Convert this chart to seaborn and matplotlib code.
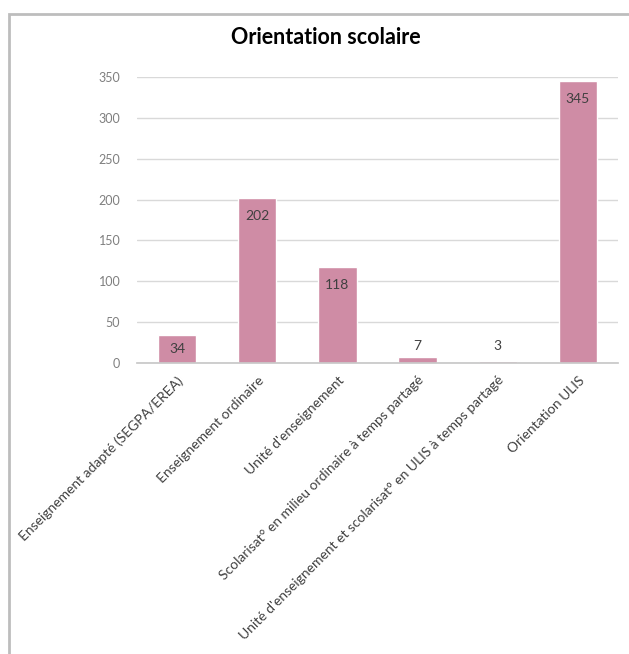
import matplotlib
matplotlib.use("Agg")
import matplotlib.pyplot as plt
import seaborn as sns
import pandas as pd
from matplotlib.patches import Rectangle

categories = [
    "Enseignement adapté (SEGPA/EREA)",
    "Enseignement ordinaire",
    "Unité d'enseignement",
    "Scolarisat° en milieu ordinaire à temps partagé",
    "Unité d'enseignement et scolarisat° en ULIS à temps partagé",
    "Orientation ULIS",
]
values = [34, 202, 118, 7, 3, 345]
yticks = [0, 50, 100, 150, 200, 250, 300, 350]

sns.set_theme(style="white")
plt.rcParams['font.family'] = ['Lato', 'DejaVu Sans']

df = pd.DataFrame({"cat": categories, "val": values})

W, H = 629, 654
fig = plt.figure(figsize=(W / 100, H / 100), dpi=100)
ax_left, ax_right, ax_bottom, ax_top = 137, 618, 363, 77
ax = fig.add_axes([ax_left / W, 1 - ax_bottom / H, (ax_right - ax_left) / W,
                   (ax_bottom - ax_top) / H])
sns.barplot(data=df, x="cat", y="val", color="#CF8CA5", saturation=1, width=0.48, ax=ax)

ax.set_ylim(0, 350)
ax.set_yticks(yticks)
ax.set_yticklabels([str(t) for t in yticks], color="#7F7F7F", fontsize=9)
ax.yaxis.grid(True, color="#D9D9D9", linewidth=1)
ax.set_axisbelow(True)
for s in ["left", "top", "right"]:
    ax.spines[s].set_visible(False)
ax.spines["bottom"].set_color("#C8C8C8")
ax.tick_params(axis="both", length=0)
ax.tick_params(axis="y", pad=12)
ax.tick_params(axis="x", pad=8)
ax.set_xlabel("")
ax.set_ylabel("")
ax.set_xticks(range(len(categories)))
ax.set_xticklabels(categories, rotation=45, ha="right", va="top",
                   rotation_mode="anchor", fontsize=10, color="#404040")

px_per_unit = (ax_bottom - ax_top) / 350
for i, v in enumerate(values):
    hpx = v * px_per_unit
    if hpx > 20:
        off = -min(18, hpx / 2)
    else:
        off = 362 - 345 - hpx
    ax.annotate(str(v), (i, v), xytext=(0, off * 0.72), textcoords="offset points",
                ha="center", va="center", fontsize=10, color="#404040")

fig.text(326 / W, 1 - 37 / H, "Orientation scolaire", ha="center", va="center",
         fontsize=15.5, fontweight="bold", color="#000000")

fig.patches.append(Rectangle((9 / W, -0.05), 1.2, 1.05 - 14 / H, transform=fig.transFigure,
                             fill=False, edgecolor="#BDBDBD", linewidth=2))

fig.savefig("out.png", dpi=100)
